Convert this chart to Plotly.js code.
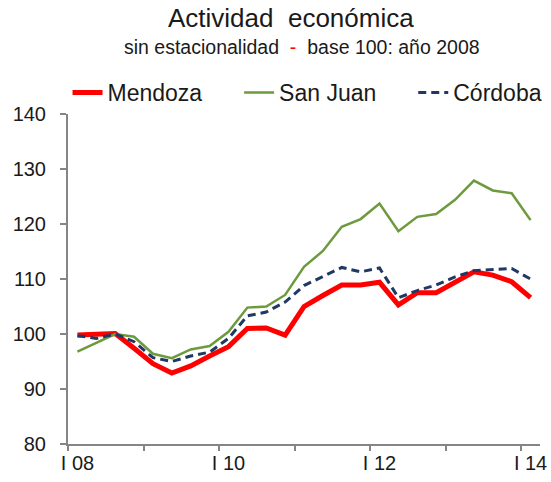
<!DOCTYPE html>
<html>
<head>
<meta charset="utf-8">
<script src="https://cdn.plot.ly/plotly-3.0.1.min.js"></script>
<style>html,body{margin:0;padding:0;background:#fff;}#chart{width:551px;height:482px;}</style>
</head>
<body>
<div id="chart"></div>
<script>
// Quarterly, I 2008 .. I 2014 (25 quarters)
const quarterIndex = [0,1,2,3,4,5,6,7,8,9,10,11,12,13,14,15,16,17,18,19,20,21,22,23,24];
const tickPositions = [0, 8, 16, 24];
const tickLabels = ["I 08", "I 10", "I 12", "I 14"];
const seriesNames = ["Mendoza", "San Juan", "Córdoba"];

const mendoza = [99.8, 99.9, 100.1, 97.4, 94.6, 92.9, 94.2, 96.0, 97.7, 101.0, 101.1, 99.8, 105.0, 107.0, 108.9, 108.9, 109.4, 105.3, 107.5, 107.5, 109.4, 111.3, 110.7, 109.5, 106.6];
const sanJuan = [96.8, 98.4, 100.0, 99.5, 96.4, 95.6, 97.2, 97.8, 100.4, 104.8, 105.0, 107.1, 112.2, 115.1, 119.5, 120.9, 123.7, 118.7, 121.3, 121.8, 124.4, 127.9, 126.1, 125.6, 120.7];
const cordoba = [99.7, 99.2, 100.0, 98.6, 95.7, 95.0, 96.0, 96.7, 99.2, 103.3, 104.0, 105.8, 108.8, 110.4, 112.1, 111.3, 112.0, 106.6, 107.9, 108.9, 110.4, 111.5, 111.7, 111.9, 110.0];

const FONT = "Liberation Sans, Arial, sans-serif";
const AXIS_COLOR = "#858585";
const PAD = "\u00a0\u00a0\u00a0\u00a0\u00a0"; // spacing between legend entries

const traces = [
  {x: quarterIndex, y: mendoza, name: seriesNames[0] + PAD, type: "scatter", mode: "lines",
   line: {color: "#ff0000", width: 5}},
  {x: quarterIndex, y: sanJuan, name: seriesNames[1] + PAD, type: "scatter", mode: "lines",
   line: {color: "#6e9a3e", width: 2.5}},
  {x: quarterIndex, y: cordoba, name: seriesNames[2], type: "scatter", mode: "lines",
   line: {color: "#1f3864", width: 3, dash: "8px,5px"}},
  {x: quarterIndex, y: cordoba, xaxis: "x2", type: "scatter", mode: "lines",
   line: {width: 0}, showlegend: false, hoverinfo: "skip", opacity: 0}
];

const layout = {
  width: 551, height: 482,
  margin: {l: 68, r: 11, t: 114, b: 38},
  paper_bgcolor: "#fff", plot_bgcolor: "#fff",
  font: {family: FONT, color: "#1a1a1a", size: 20},
  showlegend: true,
  legend: {orientation: "h", x: -0.001, y: 1.0, xanchor: "left", yanchor: "bottom",
           font: {family: FONT, size: 23, color: "#1a1a1a"}, itemwidth: 30,
           tracegroupgap: 0, bgcolor: "rgba(0,0,0,0)"},
  xaxis: {range: [-0.5, 24.5], tickvals: tickPositions, ticktext: tickLabels,
          ticks: "", showline: true, linecolor: AXIS_COLOR, linewidth: 2,
          showgrid: false, zeroline: false, fixedrange: true,
          tickfont: {family: FONT, size: 20, color: "#1a1a1a"}},
  xaxis2: {range: [-0.5, 24.5], overlaying: "x", anchor: "y", side: "bottom",
           tick0: -0.5, dtick: 4, tickmode: "linear", ticks: "outside", ticklen: 6,
           tickwidth: 2, tickcolor: AXIS_COLOR, showticklabels: false,
           showline: false, showgrid: false, zeroline: false},
  yaxis: {range: [80, 140], dtick: 10, tick0: 80, ticks: "outside", ticklen: 6,
          tickwidth: 2, tickcolor: AXIS_COLOR, showline: true, linecolor: AXIS_COLOR,
          linewidth: 2, showgrid: false, zeroline: false, ticklabelstandoff: 10,
          tickfont: {family: FONT, size: 20, color: "#1a1a1a"}},
  annotations: [
    {text: "Actividad  económica", xref: "paper", yref: "paper", x: 0.472, y: 1.0,
     yshift: 96, xanchor: "center", yanchor: "middle", showarrow: false,
     font: {family: FONT, size: 26, color: "#1a1a1a"}},
    {text: "sin estacionalidad  <span style='color:#ff0000'>-</span>  base 100: año 2008",
     xref: "paper", yref: "paper", x: 0.496, y: 1.0, yshift: 67,
     xanchor: "center", yanchor: "middle", showarrow: false,
     font: {family: FONT, size: 19.5, color: "#1a1a1a"}}
  ]
};

Plotly.newPlot("chart", traces, layout, {displayModeBar: false, staticPlot: true});
</script>
</body>
</html>
